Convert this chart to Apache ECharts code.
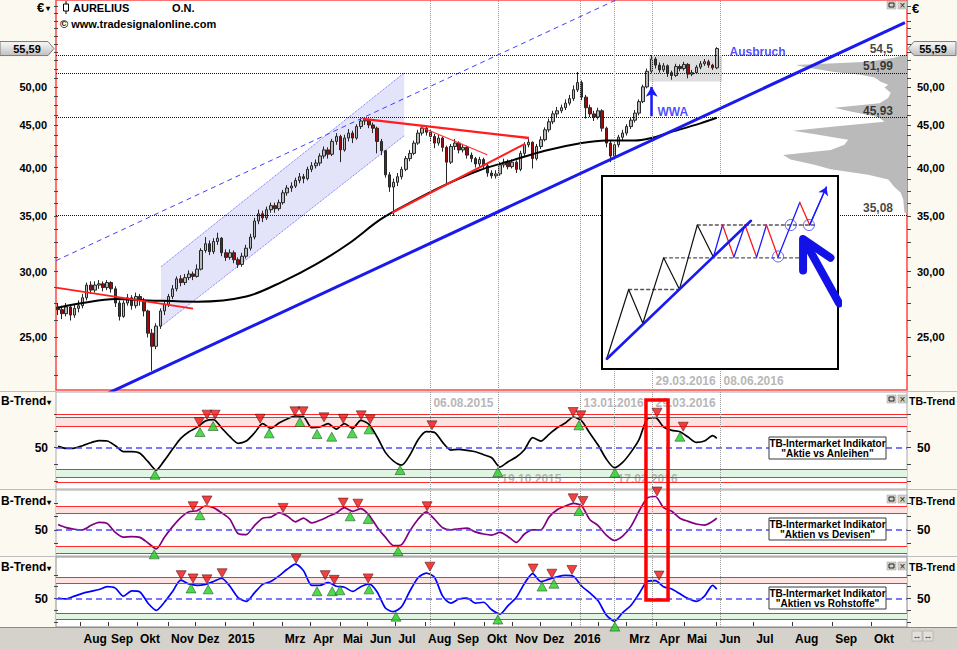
<!DOCTYPE html>
<html>
<head>
<meta charset="utf-8">
<title>AURELIUS O.N.</title>
<script src="https://cdn.jsdelivr.net/npm/echarts@6.0.0/dist/echarts.min.js"></script>
<style>
html,body{margin:0;padding:0;background:#fff;overflow:hidden;}
#chart{width:957px;height:649px;}
</style>
</head>
<body>
<div id="chart"></div>
<script>
// ================= DATA =================
// candles: one candle = ~3 trading days, x = candle index
const openP = [
27.2,27.0,26.7,27.2,26.6,27.1,27.3,27.9,28.9,28.5,
28.9,29.0,28.7,29.1,28.6,27.5,26.5,27.5,27.9,27.3,
28.0,27.7,26.9,25.3,24.4,25.8,26.9,27.4,28.0,28.6,
29.4,29.1,29.5,29.8,29.6,30.2,31.8,32.4,31.7,32.6,
32.9,31.6,31.2,31.6,31.0,30.6,31.3,32.0,33.0,34.5,
35.2,34.8,35.6,36.0,35.7,36.3,37.3,37.8,38.0,38.6,
39.0,38.8,39.8,40.2,40.5,41.3,42.0,41.5,43.0,43.6,
42.0,43.4,44.0,43.4,44.8,45.5,45.6,45.0,44.6,43.0,
41.9,39.2,37.9,38.4,39.0,39.8,41.0,41.6,42.8,44.0,
44.6,44.1,43.6,42.8,43.4,42.3,40.6,42.4,42.8,42.0,
42.3,41.4,41.0,40.4,40.9,40.2,39.4,39.1,39.3,40.3,
40.6,40.1,40.6,39.8,41.6,42.6,42.9,41.0,42.4,43.2,
44.4,45.4,46.4,46.8,47.2,47.8,48.4,49.6,50.6,48.6,
47.2,46.4,46.0,46.8,44.6,42.8,41.3,42.6,43.5,44.0,
44.8,45.6,46.5,48.0,50.0,52.2,54.0,53.1,52.4,53.0,
52.0,51.6,52.9,52.6,53.2,51.8,52.0,52.8,53.3,53.6,
53.1,52.7];
const closeP = [
27.0,26.7,27.2,26.6,27.1,27.3,27.9,28.9,28.5,28.9,
29.0,28.7,29.1,28.6,27.5,26.5,27.5,27.9,27.3,28.0,
27.7,26.9,25.3,24.4,25.8,26.9,27.4,28.0,28.6,29.4,
29.1,29.5,29.8,29.6,30.2,31.8,32.4,31.7,32.6,32.9,
31.6,31.2,31.6,31.0,30.6,31.3,32.0,33.0,34.5,35.2,
34.8,35.6,36.0,35.7,36.3,37.3,37.8,38.0,38.6,39.0,
38.8,39.8,40.2,40.5,41.3,42.0,41.5,43.0,43.6,42.0,
43.4,44.0,43.4,44.8,45.5,45.6,45.0,44.6,43.0,41.9,
39.2,37.9,38.4,39.0,39.8,41.0,41.6,42.8,44.0,44.6,
44.1,43.6,42.8,43.4,42.3,40.6,42.4,42.8,42.0,42.3,
41.4,41.0,40.4,40.9,40.2,39.4,39.1,39.3,40.3,40.6,
40.1,40.6,39.8,41.6,42.6,42.9,41.0,42.4,43.2,44.4,
45.4,46.4,46.8,47.2,47.8,48.4,49.6,50.6,48.6,47.2,
46.4,46.0,46.8,44.6,42.8,41.3,42.6,43.5,44.0,44.8,
45.6,46.5,48.0,50.0,52.2,54.0,53.1,52.4,53.0,52.0,
51.6,52.9,52.6,53.2,51.8,52.0,52.8,53.3,53.6,53.1,
52.7,55.59];
const lowP = [
26.6,26.3,26.5,26.2,26.4,26.8,27.1,27.7,28.2,28.3,
28.6,28.4,28.5,28.3,27.2,26.2,26.4,27.3,27.0,27.1,
27.3,26.5,25.0,22.8,24.2,25.6,26.6,27.2,27.8,28.4,
28.8,28.9,29.3,29.3,29.5,30.1,31.6,31.4,31.5,32.3,
31.3,30.9,31.0,30.7,30.3,30.4,31.1,31.8,32.8,34.2,
34.4,34.6,35.3,35.3,35.5,36.1,37.0,37.4,37.8,38.3,
38.3,38.6,39.5,39.9,40.2,41.0,41.0,41.3,42.6,40.6,
41.8,43.0,42.8,43.2,44.5,45.0,44.6,44.0,41.6,41.4,
38.9,37.4,35.0,38.0,38.7,39.6,40.7,41.4,42.6,43.7,
43.7,43.0,42.2,42.5,41.8,38.3,40.4,42.0,41.6,41.7,
41.0,40.6,40.0,40.1,39.8,39.0,38.8,38.8,39.1,40.0,
39.8,39.9,39.4,39.6,41.3,42.3,39.9,40.8,42.1,43.0,
44.1,45.1,46.0,46.5,46.9,47.5,48.1,49.3,48.2,45.8,
46.0,45.5,45.7,44.2,42.3,40.6,41.0,42.3,43.1,43.7,
44.5,45.3,46.2,47.8,49.8,51.9,52.6,52.0,52.1,51.4,
51.0,51.4,52.2,52.3,51.2,51.5,51.8,52.5,53.0,52.7,
52.4,52.5];
const highP = [
27.5,27.3,27.5,27.4,27.4,27.7,28.2,29.1,29.2,29.2,
29.3,29.2,29.3,29.2,28.8,27.7,27.7,28.2,28.1,28.3,
28.2,27.9,27.0,25.6,26.0,27.1,27.7,28.2,28.9,29.6,
29.7,29.8,30.1,30.0,30.6,32.0,33.0,32.7,32.9,33.4,
33.0,31.9,31.9,31.8,31.2,31.6,32.3,33.3,34.8,35.6,
35.5,35.9,36.3,36.3,36.6,37.6,38.1,38.4,38.9,39.4,
39.3,40.1,40.6,40.9,41.6,42.4,42.3,43.3,44.0,43.8,
43.8,44.5,44.3,45.1,45.8,45.9,45.8,45.3,44.8,43.3,
42.0,39.5,38.8,39.4,40.1,41.3,42.0,43.1,44.4,45.0,
44.8,44.4,43.9,43.8,43.6,42.5,42.7,43.3,43.0,42.7,
42.5,41.7,41.2,41.2,41.1,40.4,39.7,39.7,40.6,41.0,
40.9,40.9,40.8,41.9,42.9,43.3,43.0,42.7,43.6,44.7,
45.8,46.8,47.3,47.6,48.3,48.9,50.2,52.1,50.9,48.9,
47.6,46.8,47.2,47.0,44.8,43.1,42.9,43.8,44.4,45.1,
46.0,46.9,48.3,50.3,52.6,54.6,54.3,53.5,53.4,53.2,
52.3,53.3,53.2,53.6,53.4,52.4,53.1,53.7,54.0,53.9,
53.3,55.8];

// 200-day average (black line)
const maIdx = [0,6,14,22,34,46,55,63,71,79,87,95,103,111,119,128,134,141,145,149,157,161];
const maVal = [27.15,27.5,27.8,27.7,27.6,28.0,29.2,30.6,32.4,34.7,36.5,38.2,39.7,40.8,41.9,42.8,43.1,43.1,43.4,44.0,45.2,45.9];

// TB-Intermarket indicators
const oscIdx = [0,2,4,6,8,10,12,14,16,18,20,22,24,26,28,30,32,34,36,38,40,42,44,46,48,50,52,54,56,58,60,62,64,66,68,70,72,74,76,78,80,82,84,86,88,90,92,94,96,98,100,102,104,106,108,110,112,114,116,118,120,122,124,126,128,130,132,134,136,138,140,142,144,146,148,150,152,154,156,158,160,161];
const oscAnleihen = [52,49,49.5,53,57.5,60.5,60,53,44,44,41.6,29,16.5,31,48,64,74,80.5,90,92,79.5,66.5,56.6,60,72,86,79,87,93,97.5,96.5,80,81,86,78,86,79,91,85,66,43,30,24,39,62,74,73,58,46.5,47.6,46,44,39.5,35,21,29,36,47,65,60,70,80,87,96,90,71.6,54,33,20,28,43,62,93,95,81,76,74,66,58,60,68,64];
const oscDevisen = [60,54,51,50,58,64,62,45,36,37,35.6,25,14,36,56,73,84,86,95,92,82,70,43,41,58,72,74,82,76,65,72,63,68,75,82,92,85,90,78,55,36,20,22,48,70,84,70,54,50,52,53,46,42,40,45,37,26,42,50,50,74,88,95,100,95,69,58,40,30,38,56,85,110,113,92,85,72,66,61,59,66,72];
const oscRohstoffe = [51,49,55,61,65,69,75,72,55,66,64,40,25,42,65,89,81,78,80,86,93,76,52,44,62,80,86,98,112,123,109,78,78,84,76,74,65,75,81,64,30,22,33,66,94,104,95,55,40,49,51,40,42,26,17,35,52,82,103,86,91,96,99,97,76,62,45,15,2,20,35,60,86,88,75,70,60,50,44,55,78,70];

// signal triangles (candle index, indicator value)
const anlBuyIdx = [23.7,34.7,37.9,51.6,59.1,63.3,66.9,71.9,76.0,83.6,107.5,127.3,136.1,152.0];
const anlBuyVal = [17,81,90,79,96,78,74,79,85,24,21,91,20,74];
const anlSellIdx = [34.5,36.4,38.4,49.4,57.9,59.9,65.0,69.7,74.1,76.3,91.4,125.9,127.8,146.4,152.8];
const anlSellVal = [81,92,92,86,97,97,88,86,91,85,76,96,91,95,74];
const devBuyIdx = [23.5,34.7,71.4,75.8,83.1,127.3];
const devBuyVal = [13,87,85,80,19,95];
const devSellIdx = [33.0,36.4,55.0,69.7,73.3,90.2,125.9,128.3,146.4];
const devSellVal = [85,96,82,92,90,85,100,95,113];
const rohBuyIdx = [32.5,36.7,63.3,67.0,68.9,76.0,82.6,107.5,118.3,121.2,136.1];
const rohBuyVal = [82,80,76,76,78,80,22,16,86,92,1];
const rohSellIdx = [30.1,33.0,36.4,40.1,58.2,65.3,67.5,75.8,90.9,116.1,120.7,125.6,146.9];
const rohSellVal = [89,82,80,93,124,89,79,82,107,103,92,100,88];

// volume-by-price profile
const profPrice = [54.6,54.2,53.6,53.1,52.7,52.1,51.7,51.3,50.7,50.3,49.9,49.2,48.5,47.8,47.2,46.7,46.0,45.4,44.8,44.3,43.8,43.2,42.6,42.0,41.4,40.9,40.3,39.8,39.2,38.7,37.9,37.3,36.6,35.3];
const profVol = [3,10,31,89,79,58,37,26,21,15,18,13,15,22,58,45,23,18,58,91,71,47,50,61,99,93,74,61,31,15,10,5,3,2];

// drawn lines (candle index, price)
const supportIdx = [10,207];        const supportPrice = [21.18,59.74];
const upperIdx = [-0.5,137];        const upperPrice = [30.92,63.8];
const redAIdx = [-0.5,33];          const redAPrice = [28.7,27.08];
const redBIdx = [74.5,115.1];       const redBPrice = [45.77,43.4];
const redCIdx = [88.5,104.9];       const redCPrice = [44.77,41.44];
const redDIdx = [81.6,114.1];       const redDPrice = [35.3,42.7];
const chanIdx = [25.17,84.6];       const chanTop = [30.4,51.97];  const chanBot = [25.77,43.67];
const rangeIdx = [144.45,162.3];    const rangePrice = [54.5,50.74];
const wwaIdx = 145.1;               const wwaPrice = [46.1,50.0];
const levelVals = [54.5,51.99,45.93,35.08];
const levelText = ['54,5','51,99','45,93','35,08'];
const dateLineIdx = [90.9,107.5,127.6,135.9,145.2,161.8];
const lastPrice = 55.59;

// axis ticks / labels
const priceTicks = [25,30,35,40,45,50];
const priceMinor = [22.5,23.75,25,26.25,27.5,28.75,30,31.25,32.5,33.75,35,36.25,37.5,38.75,40,41.25,42.5,43.75,45,46.25,47.5,48.75,50,51.25,52.5,53.75,55,56.25,57.5,58.75,60,61.25,62.5];
const oscTicks = [0,25,50,75,100];
const monthPos = [5.5,12.2,19.3,26.9,33.5,40.8,47.7,54.7,61.6,68.9,75.5,82.4,89.7,96.8,104.1,111.0,117.8,125.4,132.0,138.9,146.2,153.0,160.9,169.9,179.4,189.2,198.7];
const monthName = ['Aug','Sep','Okt','Nov','Dez','2015','','Mrz','Apr','Mai','Jun','Jul','Aug','Sep','Okt','Nov','Dez','2016','','Mrz','Apr','Mai','Jun','Jul','Aug','Sep','Okt'];

// inset sketch (own 0..100 space)
const insBlackX = [2.1,11.3,17.3,26.1,32.8,40.4,47.2];
const insBlackY = [5.7,41.2,23.7,57.6,41.3,74.6,58.0];
const insZigX = [47.2,51.1,55.9,60.6,65.5,69.7,74.6,83.8,88.0,95.1];
const insZigY = [58.0,74.6,58.0,74.6,58.0,74.6,58.0,86.3,74.6,94.3];
const insTrendX = [2.1,63.1];   const insTrendY = [5.3,76.8];
const insDashY = [41.2,57.6,74.6]; const insDashFrom = [11.3,26.1,40.4]; const insDashTo = [32.8,83.8,90.8];
const insCircX = [74.6,80.0,87.7]; const insCircY = [58.3,74.6,74.6];
const insShaftX = [100.5,86.0]; const insShaftY = [34.0,66.0];
const insHeadX = [85.2,85.2,96.8]; const insHeadY = [51.1,67.4,57.6];

// ================= CHART =================
const F = '"Liberation Sans", Arial, sans-serif';
const X_MIN = -0.5, X_MAX = 207.5;
const fmtPrice = v => Number(v).toFixed(2).replace('.', ',');
const pairs = (xs, ys) => xs.map((x, i) => [x, ys[i]]);

function hiddenX(gi) { return {type:'value', gridIndex:gi, min:X_MIN, max:X_MAX, show:false, splitLine:{show:false}}; }
function priceAxis(pos) {
  return {type:'log', gridIndex:0, min:21.62, max:63.58, position:pos, logBase:10,
    axisLine:{show:false}, splitLine:{show:false},
    axisTick:{show:true, customValues:priceMinor, length:4, lineStyle:{color:'#444'}},
    axisLabel:{show:true, customValues:priceTicks, formatter:fmtPrice, margin:pos === 'left' ? 9 : 10,
      color:'#000', fontWeight:'bold', fontSize:11, fontFamily:F}};
}
function oscAxis(gi, pos, mn, mx) {
  return {type:'value', gridIndex:gi, min:mn, max:mx, position:pos,
    axisLine:{show:false}, splitLine:{show:false},
    axisTick:{show:true, customValues:oscTicks, length:4, lineStyle:{color:'#444'}},
    axisLabel:{show:true, customValues:[50], formatter:v => String(Math.round(v)), margin:pos === 'left' ? 8 : 10,
      color:'#000', fontWeight:'bold', fontSize:12, fontFamily:F}};
}
const gridBase = {show:true, backgroundColor:'#ffffff', containLabel:false, outerBoundsMode:'none'};

function simpleLine(xs, ys, color, width, type, z) {
  return {type:'line', xAxisIndex:0, yAxisIndex:0, data:pairs(xs, ys), symbol:'none', silent:true,
    lineStyle:{color:color, width:width, type:type || 'solid'}, z:z || 4};
}

function labelScatter(xi, yi, items, lab, z) {
  return {type:'scatter', xAxisIndex:xi, yAxisIndex:yi, silent:true, symbolSize:1, z:z || 7,
    itemStyle:{color:'rgba(0,0,0,0)'}, data:items,
    label:Object.assign({show:true, formatter:'{b}', fontFamily:F, fontWeight:'bold', fontSize:12}, lab)};
}

function panelSeries(gi, yi, vals, color, bandLines, bU, bV, sU, sV, dateLabs) {
  const out = [];
  out.push({type:'line', xAxisIndex:gi, yAxisIndex:yi, z:4, symbol:'none', smooth:0.25, silent:true,
    data:pairs(oscIdx, vals), lineStyle:{color:color, width:1.7},
    markArea:{silent:true, data:[
      [{yAxis:82, itemStyle:{color:'#fde2e2'}}, {yAxis:95}],
      [{yAxis:5, itemStyle:{color:'#e2f4e2'}}, {yAxis:18}]]},
    markLine:{silent:true, symbol:['none','none'], label:{show:false}, data:[].concat(
      bandLines.map(v => ({yAxis:v, lineStyle:{color:'#ff2a2a', width:1.2, type:'solid'}})),
      [{yAxis:50, lineStyle:{color:'#4d4dff', width:1.6, type:[6,4]}}],
      dateLineIdx.map(u => ({xAxis:u, lineStyle:{color:'#9a9a9a', width:1, type:'dotted'}})))}
  });
  out.push({type:'scatter', xAxisIndex:gi, yAxisIndex:yi, z:8, silent:true, data:pairs(bU, bV),
    symbol:'triangle', symbolSize:[10,9], symbolOffset:[0,5],
    itemStyle:{color:'#1fd21f', borderColor:'#2a4a2a', borderWidth:0.7}});
  out.push({type:'scatter', xAxisIndex:gi, yAxisIndex:yi, z:8, silent:true, data:pairs(sU, sV),
    symbol:'triangle', symbolRotate:180, symbolSize:[10,9], symbolOffset:[0,-5],
    itemStyle:{color:'#f01010', borderColor:'#4a1a1a', borderWidth:0.7}});
  if (dateLabs && dateLabs.length) {
    out.push(labelScatter(gi, yi, dateLabs, {position:'right', distance:3, color:'#a4a4a4'}, 2));
  }
  return out;
}

const series = [];
// channel fill
series.push({type:'custom', xAxisIndex:0, yAxisIndex:0, z:1, silent:true, data:[[chanIdx[0], chanBot[0]]],
  renderItem:function (params, api) {
    const p = [api.coord([chanIdx[0], chanBot[0]]), api.coord([chanIdx[0], chanTop[0]]),
               api.coord([chanIdx[1], chanTop[1]]), api.coord([chanIdx[1], chanBot[1]])];
    return {type:'polygon', shape:{points:p}, style:{fill:'#e3e3f9'}};
  }});
series.push(simpleLine(chanIdx, chanTop, '#6a6aff', 1, 'dotted', 2));
series.push(simpleLine(chanIdx, chanBot, '#6a6aff', 1, 'dotted', 2));
// volume profile
series.push({type:'custom', xAxisIndex:5, yAxisIndex:0, z:1, silent:true, data:pairs(profVol, profPrice),
  renderItem:function (params, api) {
    if (params.dataIndex !== 0) return null;
    const pts = [api.coord([0, profPrice[0]])];
    for (let i = 0; i < profPrice.length; i++) pts.push(api.coord([profVol[i], profPrice[i]]));
    pts.push(api.coord([0, profPrice[profPrice.length - 1]]));
    return {type:'polygon', shape:{points:pts}, style:{fill:'#bababa'}};
  }});
// candles
series.push({type:'candlestick', name:'AURELIUS', xAxisIndex:0, yAxisIndex:0, z:3, silent:true, barWidth:3,
  data:closeP.map((c, i) => [i, openP[i], c, lowP[i], highP[i]]),
  itemStyle:{color:'#b9b9b9', color0:'#a00a0a', borderColor:'#262626', borderColor0:'#262626', borderWidth:1},
  markArea:{silent:true, itemStyle:{color:'#dedede'},
    data:[[{coord:[rangeIdx[0], rangePrice[0]]}, {coord:[rangeIdx[1], rangePrice[1]]}]]},
  markLine:{silent:true, symbol:['none','none'], label:{show:false}, data:[].concat(
    levelVals.map(v => ({yAxis:v, lineStyle:{color:'#111', width:1, type:'dotted'}})),
    dateLineIdx.map(u => ({xAxis:u, lineStyle:{color:'#9a9a9a', width:1, type:'dotted'}})),
    [[{coord:[wwaIdx, wwaPrice[0]], symbol:'none', lineStyle:{color:'#1a1aff', width:2.5, type:'solid'}},
      {coord:[wwaIdx, wwaPrice[1]], symbol:'arrow', symbolSize:[9,10], lineStyle:{color:'#1a1aff', width:2.5, type:'solid'}}]])}
});
// average & trend lines
series.push({type:'line', xAxisIndex:0, yAxisIndex:0, z:4, silent:true, symbol:'none', smooth:0.35,
  data:pairs(maIdx, maVal), lineStyle:{color:'#000', width:2}});
series.push(simpleLine(supportIdx, supportPrice, '#1a1aee', 3, 'solid', 5));
series.push(simpleLine(upperIdx, upperPrice, '#4040ff', 1, [5,4], 4));
series.push(simpleLine(redAIdx, redAPrice, '#ff1e1e', 1.8, 'solid', 5));
series.push(simpleLine(redBIdx, redBPrice, '#ff1e1e', 2.4, 'solid', 5));
series.push(simpleLine(redCIdx, redCPrice, '#ff3030', 1.2, 'solid', 5));
series.push(simpleLine(redDIdx, redDPrice, '#ff1e1e', 2, 'solid', 5));
// main annotations
series.push(labelScatter(0, 0, levelVals.map((v, i) => ({name:levelText[i], value:[204.2, v]})),
  {position:'left', distance:0, offset:[0,-7], color:'#111'}));
series.push(labelScatter(0, 0, [{name:'Ausbruch', value:[164, 55.07]}, {name:'WWA', value:[146.4, 46.66]}],
  {position:'right', distance:0, color:'#1e1eff'}));
series.push(labelScatter(0, 0, [{name:'29.03.2016', value:[145.2, 22.17]}, {name:'08.06.2016', value:[161.8, 22.17]}],
  {position:'right', distance:3, color:'#a4a4a4'}, 2));

// lower panels
const p2Labels = [{name:'06.08.2015', value:[90.9, 117]}, {name:'13.01.2016', value:[127.6, 117]}, {name:'29.03.2016', value:[145.2, 117]},
                  {name:'19.10.2015', value:[107.5, 3]}, {name:'17.02.2016', value:[135.9, 3]}];
panelSeries(1, 2, oscAnleihen, '#000000', [100,95,82,18,5,-2], anlBuyIdx, anlBuyVal, anlSellIdx, anlSellVal, p2Labels).forEach(s => series.push(s));
panelSeries(2, 4, oscDevisen, '#800080', [95,82,18,5], devBuyIdx, devBuyVal, devSellIdx, devSellVal, []).forEach(s => series.push(s));
panelSeries(3, 6, oscRohstoffe, '#0000ff', [95,82,18,5], rohBuyIdx, rohBuyVal, rohSellIdx, rohSellVal, []).forEach(s => series.push(s));

// inset sketch
const inset = (data, color, width, type, z) => ({type:'line', xAxisIndex:4, yAxisIndex:8, z:z || 60, symbol:'none', silent:true,
  data:data, lineStyle:{color:color, width:width, type:type || 'solid', cap:'round', join:'round'}});
insDashY.forEach((y, i) => series.push(inset([[insDashFrom[i], y], [insDashTo[i], y]], '#555', 1.3, [3,3], 60)));
series.push(inset(pairs(insBlackX, insBlackY), '#111', 1.2, 'solid', 61));
for (let i = 0; i < insZigX.length - 1; i++) {
  const up = insZigY[i + 1] > insZigY[i];
  const s = inset([[insZigX[i], insZigY[i]], [insZigX[i + 1], insZigY[i + 1]]], up ? '#1a1aff' : '#ff1a1a', 1.3, 'solid', 61);
  if (i === insZigX.length - 2) {
    s.markLine = {z:62, silent:true, symbol:['none','arrow'], symbolSize:8, label:{show:false},
      lineStyle:{color:'#1a1aff', width:1.3, type:'solid'},
      data:[[{coord:[insZigX[i], insZigY[i]]}, {coord:[insZigX[i + 1], insZigY[i + 1]]}]]};
  }
  series.push(s);
}
series.push(inset(pairs(insTrendX, insTrendY), '#1a1aee', 2.6, 'solid', 62));
series.push({type:'scatter', xAxisIndex:4, yAxisIndex:8, z:63, silent:true, data:pairs(insCircX, insCircY),
  symbol:'circle', symbolSize:11, itemStyle:{color:'rgba(0,0,0,0)', borderColor:'#3a3aff', borderWidth:1}});
series.push(inset(pairs(insShaftX, insShaftY), '#1212e6', 8, 'solid', 63));
series.push(inset(pairs(insHeadX, insHeadY), '#1212e6', 8, 'solid', 63));

const option = {
  animation:false,
  backgroundColor:'#ffffff',
  textStyle:{fontFamily:F},
  grid:[
    Object.assign({}, gridBase, {left:56, top:0, width:851, height:390, borderColor:'#ff4646', borderWidth:1.5}),
    Object.assign({}, gridBase, {left:56, top:392, width:851, height:97, borderColor:'#a8a8a8', borderWidth:1}),
    Object.assign({}, gridBase, {left:56, top:490, width:851, height:66, borderColor:'#a8a8a8', borderWidth:1}),
    Object.assign({}, gridBase, {left:56, top:557, width:851, height:70, borderColor:'#8a8a8a', borderWidth:1}),
    Object.assign({}, gridBase, {left:602, top:176, width:236, height:193, borderColor:'#000', borderWidth:2, z:50})
  ],
  xAxis:[
    hiddenX(0), hiddenX(1), hiddenX(2),
    {type:'value', gridIndex:3, min:X_MIN, max:X_MAX, position:'bottom',
      axisLine:{show:false}, splitLine:{show:false},
      axisTick:{show:true, customValues:monthPos, length:4, lineStyle:{color:'#333'}},
      axisLabel:{show:true, customValues:monthPos.filter((p, i) => monthName[i] !== ''),
        formatter:function (v) { const i = monthPos.findIndex(p => Math.abs(p - v) < 1e-6); return i >= 0 ? monthName[i] : ''; },
        align:'left', margin:6, padding:[0,0,0,3], color:'#000', fontWeight:'bold', fontSize:12, fontFamily:F}},
    {type:'value', gridIndex:4, min:0, max:100, show:false, splitLine:{show:false}},
    {type:'value', gridIndex:0, min:0, max:680, inverse:true, show:false, splitLine:{show:false}}
  ],
  yAxis:[
    priceAxis('left'), priceAxis('right'),
    oscAxis(1, 'left', -11.9, 133.5), oscAxis(1, 'right', -11.9, 133.5),
    oscAxis(2, 'left', 0.4, 125.3), oscAxis(2, 'right', 0.4, 125.3),
    oscAxis(3, 'left', -10.5, 138.1), oscAxis(3, 'right', -10.5, 138.1),
    {type:'value', gridIndex:4, min:0, max:100, show:false, splitLine:{show:false}}
  ],
  series:series
};

const chart = echarts.init(document.getElementById('chart'), null, {renderer:'svg', width:957, height:649});
chart.setOption(option);

// ---------- static frame, texts and overlays ----------
function T(text, x, y, o) {
  o = o || {};
  const al = o.align || 'left', va = o.valign || 'middle';
  return {type:'text', z:o.z || 100, silent:true,
    style:{text:text, x:x, y:y, fill:o.fill || '#000', font:(o.weight || 'bold') + ' ' + (o.size || 11) + 'px ' + F,
      textAlign:al, textVerticalAlign:va, align:al, verticalAlign:va}};
}
function R(x, y, w, h, fill, stroke, lw, z) {
  return {type:'rect', z:z == null ? 100 : z, silent:true, shape:{x:x, y:y, width:w, height:h},
    style:{fill:fill, stroke:stroke || null, lineWidth:lw || 0}};
}
function L(x1, y1, x2, y2, stroke, lw, z) {
  return {type:'line', z:z == null ? 100 : z, silent:true, shape:{x1:x1, y1:y1, x2:x2, y2:y2}, style:{stroke:stroke, lineWidth:lw || 1}};
}
const g = [];
// side strips
g.push(R(0, 0, 56, 627, '#fcf9f0', null, 0, -5));
g.push(R(907, 0, 50, 627, '#fcf9f0', null, 0, -5));
g.push(R(0, 627, 957, 22, '#d5d2cb', null, 0, -5));
[391.5, 489.5, 556.5].forEach(y => { g.push(L(0, y, 56, y, '#bdbdbd', 1, 1)); g.push(L(907, y, 957, y, '#bdbdbd', 1, 1)); });
g.push(L(0, 627.5, 957, 627.5, '#8a8a8a', 1, 1));
// header
g.push(T('€', 37, 7, {size:13}));
g.push(T('▾', 46, 8, {size:8}));
g.push(L(66, 1, 66, 14, '#000', 1));
g.push(R(63.5, 4, 5, 7, '#fff', '#000', 1));
g.push(T('AURELIUS', 73, 8, {size:11}));
g.push(T('O.N.', 172, 8, {size:11}));
g.push(T('© www.tradesignalonline.com', 60, 24, {size:11}));
g.push(T('€', 912, 8, {size:13}));
// window buttons
[1, 395, 495, 562].forEach(y0 => {
  g.push(R(887, y0, 9, 8, '#d6d3cc', '#9a9a9a', 0.5));
  g.push(R(889, y0 + 2, 5, 4, 'none', '#222', 1));
  g.push(R(898, y0, 9, 8, '#d6d3cc', '#9a9a9a', 0.5));
  g.push(T('×', 902.5, y0 + 4, {size:10, align:'center', weight:'normal', fill:'#222'}));
});
// panel titles
[401, 501, 567].forEach(y => {
  g.push(T('B-Trend', 1, y, {size:12}));
  g.push(T('▾', 47, y + 1, {size:8}));
  g.push(T('TB-Trend', 909, y, {size:10.5}));
});
// indicator boxes
[[437, '"Aktie vs Anleihen"'], [518, '"Aktien vs Devisen"'], [587, '"Aktien vs Rohstoffe"']].forEach(b => {
  const y0 = b[0];
  g.push(R(769, y0, 117, 22, '#ffffff', '#3a3a3a', 1));
  g.push(T('TB-Intermarket Indikator', 827.5, y0 + 6.5, {size:10, align:'center'}));
  g.push(T(b[1], 827.5, y0 + 16, {size:10, align:'center'}));
});
// bottom-right scroll buttons
g.push(R(912, 631, 10, 10, '#e2e0da', '#9a9a9a', 0.5));
g.push(R(923, 631, 10, 10, '#e2e0da', '#9a9a9a', 0.5));
g.push(T('↔', 917, 636, {size:9, align:'center', weight:'normal', fill:'#333'}));
g.push(T('↔', 928, 636, {size:9, align:'center', weight:'normal', fill:'#333'}));
// price tags (positioned through the price axis)
const yLast = chart.convertToPixel({yAxisIndex:0}, lastPrice);
const grad = {type:'linear', x:0, y:0, x2:0, y2:1, colorStops:[{offset:0, color:'#fafafa'}, {offset:1, color:'#bfbfbf'}]};
g.push({type:'polygon', z:100, silent:true, shape:{points:[[0, yLast - 7], [48, yLast - 7], [54, yLast], [48, yLast + 7], [0, yLast + 7]]},
  style:{fill:grad, stroke:'#7a7a7a', lineWidth:1}});
g.push(T('55,59', 27, yLast, {size:11, align:'center'}));
g.push({type:'polygon', z:100, silent:true, shape:{points:[[956, yLast - 7], [914, yLast - 7], [908, yLast], [914, yLast + 7], [956, yLast + 7]]},
  style:{fill:grad, stroke:'#7a7a7a', lineWidth:1}});
g.push(T('55,59', 933, yLast, {size:11, align:'center'}));
// red highlight box across the indicator panels (29.03.2016)
const rx1 = chart.convertToPixel({xAxisIndex:1}, 143.7);
const rx2 = chart.convertToPixel({xAxisIndex:1}, 149.1);
const ry1 = chart.convertToPixel({yAxisIndex:2}, 121.5);
const ry2 = chart.convertToPixel({yAxisIndex:6}, 46.8);
g.push({type:'rect', z:120, silent:true, shape:{x:rx1, y:ry1, width:rx2 - rx1, height:ry2 - ry1},
  style:{fill:'none', stroke:'#ff0000', lineWidth:3.5}});

chart.setOption({graphic:{elements:g}});
</script>
</body>
</html>
